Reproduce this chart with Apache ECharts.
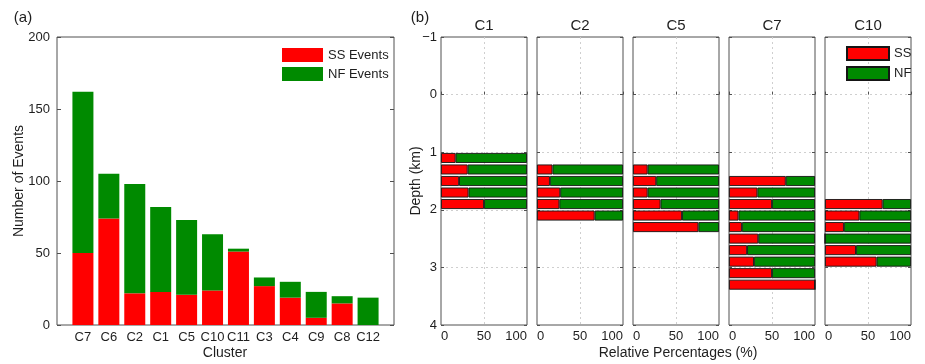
<!DOCTYPE html>
<html>
<head>
<meta charset="utf-8">
<script src="https://cdn.jsdelivr.net/npm/echarts@6/dist/echarts.min.js"></script>
<style>
  html, body { margin: 0; padding: 0; background: #fff; }
  #chart { width: 925px; height: 364px; }
</style>
</head>
<body>
<div id="chart"></div>
<script>
// Panel (a): number of events per cluster, split by mechanism
const clusters = ['C7', 'C6', 'C2', 'C1', 'C5', 'C10', 'C11', 'C3', 'C4', 'C9', 'C8', 'C12'];
const ssEvents = [50, 74, 22, 23, 21, 24, 51, 27, 19, 5, 15, 0];
const nfEvents = [112, 31, 76, 59, 52, 39, 2, 6, 11, 18, 5, 19];

// Panel (b): share of SS events (%) in 0.2 km depth bins, keyed by bin top depth (km)
const profileNames = ['C1', 'C2', 'C5', 'C7', 'C10'];
const binTopC1 = [1.0, 1.2, 1.4, 1.6, 1.8];
const ssPctC1 = [17, 31, 21, 32, 50];
const binTopC2 = [1.2, 1.4, 1.6, 1.8, 2.0];
const ssPctC2 = [18, 15, 27, 26, 67];
const binTopC5 = [1.2, 1.4, 1.6, 1.8, 2.0, 2.2];
const ssPctC5 = [17, 27, 17, 32, 57, 76];
const binTopC7 = [1.4, 1.6, 1.8, 2.0, 2.2, 2.4, 2.6, 2.8, 3.0, 3.2];
const ssPctC7 = [66, 33, 50, 11, 15, 34, 21, 29, 50, 100];
const binTopC10 = [1.8, 2.0, 2.2, 2.4, 2.6, 2.8];
const ssPctC10 = [67, 40, 22, 0, 36, 60];

const profileBins = [binTopC1, binTopC2, binTopC5, binTopC7, binTopC10];
const profileSS = [ssPctC1, ssPctC2, ssPctC5, ssPctC7, ssPctC10];

const RED = '#ff0000';
const GREEN = '#008a00';
const FRAME = '#505050';
const INK = '#1e1e1e';
const FONT = '"Liberation Sans", Arial, Helvetica, sans-serif';

// depth bins spanning the -1..4 km axis
const DEPTH_MIN = -1, DEPTH_MAX = 4, BIN = 0.2;
const binLabels = [];
for (let d = DEPTH_MIN; d < DEPTH_MAX - 1e-9; d += BIN) binLabels.push(d.toFixed(1));

// cluster axis with one empty slot on each side, as in a MATLAB bar plot
const clusterSlots = [''].concat(clusters, [' ']);

const chart = echarts.init(document.getElementById('chart'), null, { renderer: 'canvas' });

const TOP = 37, HEIGHT = 288;
const profileLeft = [441, 537, 633, 729, 825];
const PROFILE_W = 86;

const grid = [{ left: 57, top: TOP, width: 337, height: HEIGHT, show: true, borderColor: FRAME, borderWidth: 1, backgroundColor: 'transparent' }];
profileLeft.forEach(l => grid.push({ left: l, top: TOP, width: PROFILE_W, height: HEIGHT, show: true, borderColor: FRAME, borderWidth: 1, backgroundColor: 'transparent' }));

const tickLabel = { color: INK, fontSize: 13, fontFamily: FONT };
const dotted = { show: true, showMinLine: false, showMaxLine: false, lineStyle: { color: '#cfcfcf', type: [2, 3], width: 1 } };

const xAxis = [{
  gridIndex: 0, type: 'category', data: clusterSlots, boundaryGap: false,
  axisLine: { show: false }, axisTick: { show: false }, splitLine: { show: false },
  axisLabel: Object.assign({}, tickLabel, { margin: 6, interval: 0 })
}];
const yAxis = [
  {
    gridIndex: 0, type: 'value', min: 0, max: 200, interval: 50, position: 'left',
    axisLine: { show: false }, splitLine: { show: false },
    axisTick: { show: true, inside: true, length: 4, lineStyle: { color: FRAME } },
    axisLabel: Object.assign({}, tickLabel, { margin: 7 })
  },
  {
    gridIndex: 0, type: 'value', min: 0, max: 200, interval: 50, position: 'right',
    axisLine: { show: false }, splitLine: { show: false }, axisLabel: { show: false },
    axisTick: { show: true, inside: true, length: 4, lineStyle: { color: FRAME } }
  }
];

const series = [
  {
    name: 'SS Events', type: 'bar', xAxisIndex: 0, yAxisIndex: 0, stack: 'count', barWidth: 21,
    itemStyle: { color: RED }, data: ssEvents.map((v, i) => [clusters[i], v])
  },
  {
    name: 'NF Events', type: 'bar', xAxisIndex: 0, yAxisIndex: 0, stack: 'count', barWidth: 21,
    itemStyle: { color: GREEN }, data: nfEvents.map((v, i) => [clusters[i], v])
  }
];

const depthLabel = v => (v < 0 ? '\u2212' + (-v) : String(v));

profileNames.forEach((name, k) => {
  const g = k + 1;
  xAxis.push({
    gridIndex: g, type: 'value', min: 0, max: 100, interval: 50,
    axisLine: { show: false },
    axisTick: { show: true, inside: true, length: 3, lineStyle: { color: FRAME } },
    axisLabel: Object.assign({}, tickLabel, { margin: 5, alignMinLabel: 'left', alignMaxLabel: 'right' }),
    splitLine: dotted
  });
  const base = yAxis.length;
  yAxis.push({
    gridIndex: g, type: 'value', min: DEPTH_MIN, max: DEPTH_MAX, interval: 1, inverse: true, position: 'left',
    axisLine: { show: false },
    axisTick: { show: true, inside: true, length: 3, lineStyle: { color: FRAME } },
    axisLabel: Object.assign({}, tickLabel, { show: k === 0, margin: 4, formatter: depthLabel }),
    splitLine: dotted
  });
  yAxis.push({
    gridIndex: g, type: 'value', min: DEPTH_MIN, max: DEPTH_MAX, interval: 1, inverse: true, position: 'right',
    axisLine: { show: false }, axisLabel: { show: false }, splitLine: { show: false },
    axisTick: { show: true, inside: true, length: 3, lineStyle: { color: FRAME } }
  });
  yAxis.push({
    gridIndex: g, type: 'category', data: binLabels, inverse: true, boundaryGap: true, show: false
  });
  const bins = profileBins[k].map(d => d.toFixed(1));
  const ss = profileSS[k];
  const barStyle = { borderColor: '#151515', borderWidth: 0.9 };
  series.push({
    name: 'SS', type: 'bar', xAxisIndex: g, yAxisIndex: base + 2, stack: 'pct' + g, barWidth: 10,
    itemStyle: Object.assign({ color: RED }, barStyle),
    data: ss.map((v, i) => [v, bins[i]])
  });
  series.push({
    name: 'NF', type: 'bar', xAxisIndex: g, yAxisIndex: base + 2, stack: 'pct' + g, barWidth: 10,
    itemStyle: Object.assign({ color: GREEN }, barStyle),
    data: ss.map((v, i) => [100 - v, bins[i]])
  });
});

const txt = (x, y, text, extra) => ({
  type: 'text', x, y, silent: true,
  style: Object.assign({ text, fill: INK, font: '14px ' + FONT, textAlign: 'center', textVerticalAlign: 'middle' }, extra || {})
});

const graphic = [
  txt(23, 18, '(a)', { font: '15px ' + FONT }),
  txt(420, 18, '(b)', { font: '15px ' + FONT }),
  txt(225, 353, 'Cluster'),
  txt(678, 353, 'Relative Percentages (%)'),
  { type: 'text', x: 19, y: 181, rotation: Math.PI / 2, silent: true,
    style: { text: 'Number of Events', fill: INK, font: '14px ' + FONT, textAlign: 'center', textVerticalAlign: 'middle' } },
  { type: 'text', x: 416, y: 181, rotation: Math.PI / 2, silent: true,
    style: { text: 'Depth (km)', fill: INK, font: '14px ' + FONT, textAlign: 'center', textVerticalAlign: 'middle' } }
];
profileNames.forEach((name, k) => {
  graphic.push(txt(profileLeft[k] + PROFILE_W / 2, 26, name, { font: '15px ' + FONT }));
});

chart.setOption({
  animation: false,
  backgroundColor: '#fff',
  textStyle: { fontFamily: FONT },
  grid, xAxis, yAxis, series, graphic,
  legend: [
    {
      data: ['SS Events', 'NF Events'], orient: 'vertical', left: 282, top: 48,
      itemWidth: 41, itemHeight: 14, itemGap: 5, padding: 0, icon: 'rect',
      textStyle: { color: INK, fontSize: 13, fontFamily: FONT }
    },
    {
      data: ['SS', 'NF'], orient: 'vertical', left: 846, top: 46,
      itemWidth: 42, itemHeight: 13, itemGap: 5, padding: 0, icon: 'rect',
      textStyle: { color: INK, fontSize: 13, fontFamily: FONT }
    }
  ]
});
</script>
</body>
</html>
